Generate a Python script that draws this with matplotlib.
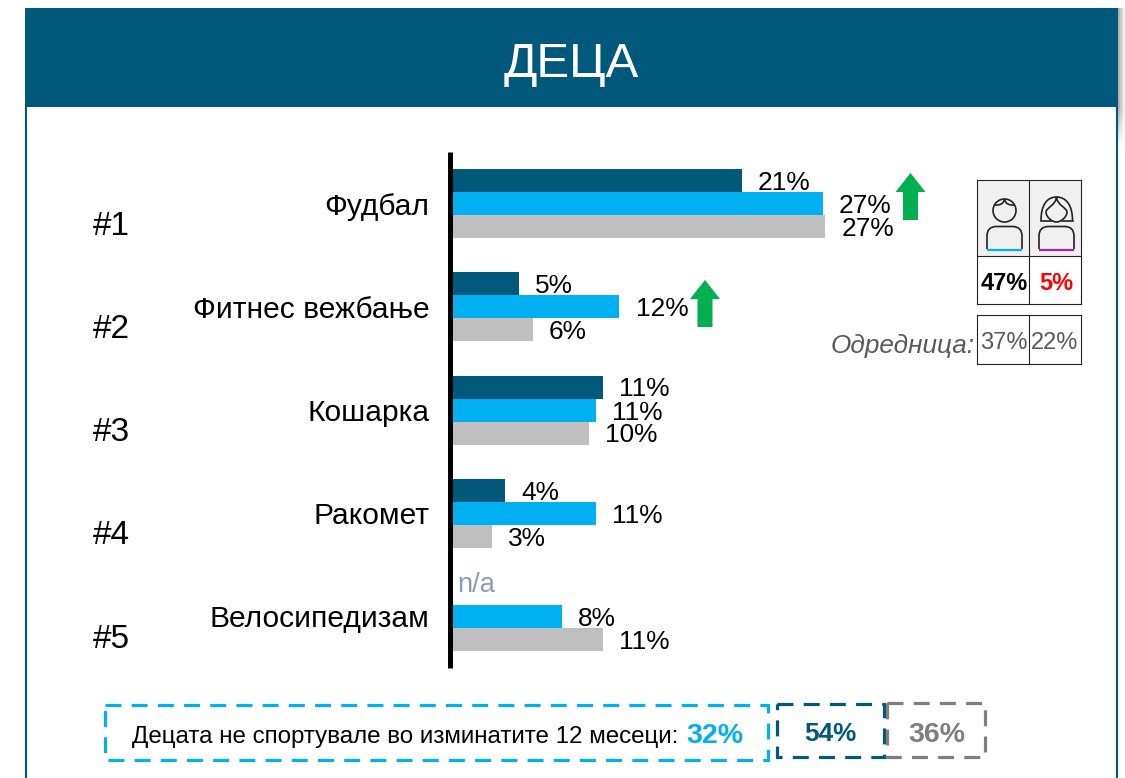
import matplotlib
matplotlib.use("Agg")
import matplotlib.pyplot as plt
from matplotlib.patches import Rectangle, Circle, Polygon, PathPatch
from matplotlib.path import Path
from matplotlib.transforms import blended_transform_factory
import numpy as np

plt.rcParams['font.family'] = ['Liberation Sans', 'DejaVu Sans']

# data
sports = ["Фудбал", "Фитнес вежбање", "Кошарка", "Ракомет", "Велосипедизам"]
ranks = ["#1", "#2", "#3", "#4", "#5"]
dark_vals = [21.0, 4.8, 10.9, 3.8, np.nan]
blue_vals = [26.9, 12.1, 10.4, 10.4, 7.9]
grey_vals = [27.05, 5.8, 9.9, 2.8, 10.9]
dark_labels = ["21%", "5%", "11%", "4%", "n/a"]
blue_labels = ["27%", "12%", "11%", "11%", "8%"]
grey_labels = ["27%", "6%", "10%", "3%", "11%"]

no_sport_label = "Децата не спортувале во изминатите 12 месеци:"
no_sport = ["32%", "54%", "36%"]
gender_now = ["47%", "5%"]
gender_bench = ["37%", "22%"]

DARK = "#00587A"
BLUE = "#00B0F0"
GREY = "#BFBFBF"
GREEN = "#00B050"
LINE = "#222222"
W, H = 1125, 778

fig = plt.figure(figsize=(W / 100, H / 100), dpi=100, facecolor="white")

# background layer, in pixels
bg = fig.add_axes([0, 0, 1, 1])
bg.set_xlim(0, W)
bg.set_ylim(H, 0)
bg.axis("off")

# soft shadow right of the panel, fades out below the header
across = np.linspace(0.32, 0, 8)
down = np.concatenate([np.ones(100), np.linspace(1, 0, 40)])
shadow = 1 - np.outer(down, across)
bg.imshow(shadow, extent=(1118, 1126, 148, 8), cmap="gray", vmin=0, vmax=1, aspect="auto", zorder=0)
bg.set_xlim(0, W)
bg.set_ylim(H, 0)

bg.add_patch(Rectangle((26, 100), 1090.5, 690, fc="white", ec=DARK, lw=1.5))
bg.add_patch(Rectangle((25, 8), 1093, 99, fc=DARK, ec="none"))
bg.text(571, 64, "ДЕЦА", color="white", fontsize=35.5, ha="center", va="center")

# bars
ax = fig.add_axes([453 / W, 1 - 668 / H, 600 / W, 516 / H], facecolor="none")
ax.set_xlim(0, 600 / 13.75)
ax.set_ylim(4.5, -0.5)
for s in ["top", "right", "bottom"]:
    ax.spines[s].set_visible(False)
ax.spines["left"].set_linewidth(3.6)
ax.spines["left"].set_position(("outward", 2.0))
ax.spines["left"].set_capstyle("butt")
ax.set_xticks([])
ax.set_yticks(range(len(sports)))
ax.set_yticklabels(sports, fontsize=21.6, color="black")
ax.tick_params(axis="y", length=0, pad=15)

h = 23 / 103.2
y = np.arange(len(sports))
series = [(dark_vals, dark_labels, DARK, -h), (blue_vals, blue_labels, BLUE, 0), (grey_vals, grey_labels, GREY, h)]
for vals, labels, col, off in series:
    ax.barh(y + off, vals, height=h, color=col)
    for i in range(len(vals)):
        if np.isnan(vals[i]):
            ax.annotate(labels[i], (0, i + off), xytext=(2.8, 6.2), textcoords="offset points",
                        va="center", ha="left", fontsize=19.7, color="#8C9BB3")
        else:
            ax.annotate(labels[i], (vals[i], i + off), xytext=(11.7, -1.8), textcoords="offset points",
                        va="center", ha="left", fontsize=18.9, color="black")

trans = blended_transform_factory(bg.transData, ax.transData)
for i in range(len(ranks)):
    ax.text(93, i + 0.22, ranks[i], transform=trans, fontsize=24, va="center", ha="left")

# green arrows
for cx, top in [(910.5, 173), (705, 280)]:
    pts = [(cx, top), (cx + 15, top + 19), (cx + 7.5, top + 19), (cx + 7.5, top + 47),
           (cx - 7.5, top + 47), (cx - 7.5, top + 19), (cx - 15, top + 19)]
    bg.add_patch(Polygon(pts, closed=True, fc=GREEN, ec="none"))

# table on the right
bg.add_patch(Rectangle((977, 180), 104, 76, fc="#F0F0F0", ec="none"))
for x0, y0, x1, y1 in [(977, 180, 977, 304), (1029, 180, 1029, 304), (1081, 180, 1081, 304),
                       (977, 180, 1081, 180), (977, 256, 1081, 256), (977, 304, 1081, 304),
                       (977, 315, 977, 364), (1029, 315, 1029, 364), (1081, 315, 1081, 364),
                       (977, 315, 1081, 315), (977, 364, 1081, 364)]:
    bg.plot([x0, x1], [y0, y1], color=LINE, lw=0.8, solid_capstyle="projecting")
bg.text(1004.5, 283, gender_now[0], fontsize=17, fontweight="bold", ha="center", va="center", color="black")
bg.text(1056, 283, gender_now[1], fontsize=17, fontweight="bold", ha="center", va="center", color="#FF0000")
bg.text(1004, 343, gender_bench[0], fontsize=17, ha="center", va="center", color="#595959")
bg.text(1055, 343, gender_bench[1], fontsize=17, ha="center", va="center", color="#595959")
bg.text(975, 346, "Одредница:", fontsize=18.8, style="italic", ha="right", va="center", color="#595959")


def body(cx, col):
    verts = [(cx - 17.5, 249), (cx - 17.5, 236), (cx - 17.5, 226.5), (cx - 8, 226.5), (cx + 8, 226.5),
             (cx + 17.5, 226.5), (cx + 17.5, 236), (cx + 17.5, 249)]
    codes = [Path.MOVETO, Path.LINETO, Path.CURVE3, Path.CURVE3, Path.LINETO, Path.CURVE3, Path.CURVE3, Path.LINETO]
    bg.add_patch(PathPatch(Path(verts, codes), fc="none", ec=LINE, lw=1.2))
    bg.plot([cx - 17.5, cx + 17.5], [250, 250], color=col, lw=1.6, solid_capstyle="butt")


# boy
body(1004.5, BLUE)
bg.add_patch(Circle((1004.5, 210.5), 11.5, fc="none", ec=LINE, lw=1.2))
bg.add_patch(PathPatch(Path([(994, 205), (1003, 206), (1004.5, 199.5), (1006, 206), (1015, 205)],
                            [Path.MOVETO, Path.CURVE3, Path.CURVE3, Path.CURVE3, Path.CURVE3]),
                       fc="none", ec=LINE, lw=1.2))
# girl
body(1056.5, "#B01FA8")
hair = [(1041, 220.5), (1041, 205), (1047, 197), (1056.5, 197), (1066, 197), (1072.5, 205), (1072.5, 220.5)]
bg.add_patch(PathPatch(Path(hair, [Path.MOVETO] + [Path.CURVE4] * 6), fc="none", ec=LINE, lw=1.2))
bg.plot([1041, 1051], [220.5, 220.5], color=LINE, lw=1.2)
bg.plot([1062, 1072.5], [220.5, 220.5], color=LINE, lw=1.2)
face = [(1056.5, 197), (1056, 205), (1046, 208), (1046, 212), (1046, 217), (1052, 222), (1056.5, 222),
        (1061, 222), (1067, 217), (1067, 212), (1067, 208), (1057, 205), (1056.5, 197)]
bg.add_patch(PathPatch(Path(face, [Path.MOVETO] + [Path.CURVE4] * 12), fc="none", ec=LINE, lw=1.2))

# dashed boxes at the bottom
for x0, y0, x1, y1, col in [(105, 705, 768, 760, BLUE), (777, 704, 884, 757, DARK), (887, 703, 985, 757, "#7F7F7F")]:
    bg.add_patch(Rectangle((x0, y0), x1 - x0, y1 - y0, fc="none", ec=col, lw=2.3, ls=(0, (5, 3.2))))
bg.text(132, 737, no_sport_label, fontsize=17.35, ha="left", va="center", color="black")
bg.text(686, 736, no_sport[0], fontsize=20.5, fontweight="bold", ha="left", va="center", color=BLUE)
bg.text(830.5, 734, no_sport[1], fontsize=18.8, fontweight="bold", ha="center", va="center", color=DARK)
bg.text(936.5, 735, no_sport[2], fontsize=20.5, fontweight="bold", ha="center", va="center", color="#7F7F7F")

fig.savefig("out.png", dpi=100)
